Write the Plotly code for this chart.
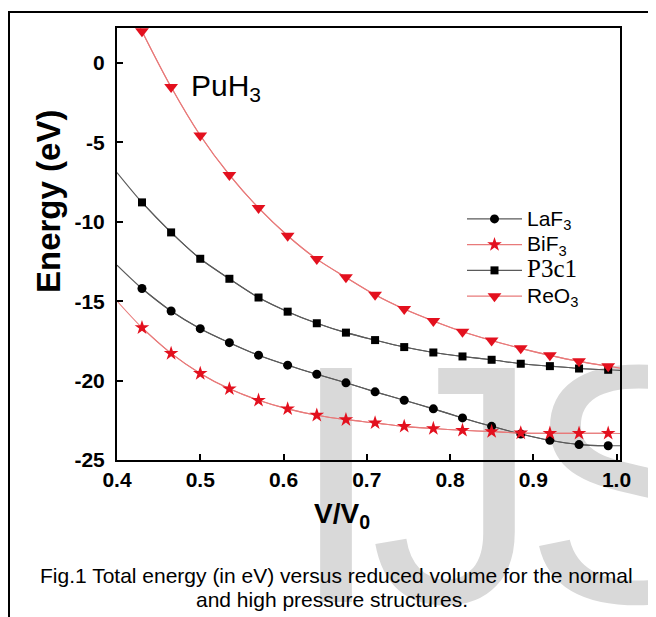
import plotly.graph_objects as go

# ---------------- data ----------------
V = [0.43, 0.465, 0.50, 0.535, 0.57, 0.605, 0.64, 0.675, 0.71,
     0.745, 0.78, 0.815, 0.85, 0.885, 0.92, 0.955, 0.99]

E_LaF3 = [-14.20, -15.62, -16.73, -17.61, -18.40, -19.03, -19.60, -20.14, -20.71,
          -21.24, -21.78, -22.35, -22.88, -23.36, -23.76, -24.03, -24.10]
E_BiF3 = [-16.67, -18.29, -19.55, -20.52, -21.24, -21.78, -22.18, -22.46, -22.66,
          -22.88, -23.02, -23.13, -23.21, -23.30, -23.32, -23.32, -23.32]
E_P3c1 = [-8.78, -10.67, -12.33, -13.59, -14.77, -15.66, -16.39, -16.98, -17.45,
          -17.89, -18.23, -18.48, -18.69, -18.94, -19.09, -19.24, -19.32]
E_ReO3 = [2.00, -1.52, -4.57, -7.05, -9.13, -10.88, -12.35, -13.50, -14.60,
          -15.50, -16.25, -16.92, -17.47, -17.97, -18.41, -18.79, -19.09]

# ends of the fitted curves (at V/V0 = 0.40 and 1.00)
fit_V = [0.40, 1.005]
fit_LaF3 = [-12.73, -24.10]
fit_BiF3 = [-14.99, -23.33]
fit_P3c1 = [-6.90, -19.36]
fit_ReO3 = [5.30, -19.22]

x_ticks = [0.4, 0.5, 0.6, 0.7, 0.8, 0.9, 1.0]
x_tick_labels = ["0.4", "0.5", "0.6", "0.7", "0.8", "0.9", "1.0"]
y_ticks = [0, -5, -10, -15, -20, -25]
y_tick_labels = ["0", "-5", "-10", "-15", "-20", "-25"]

# ---------------- layout geometry ----------------
# the page body has an 8px margin, so the figure starts at page (8, 8)
OFF = 8
W, H = 656 - OFF, 617 - OFF
PLOT_L, PLOT_R, PLOT_T, PLOT_B = 117, 620, 28, 460   # page pixels
ML, MR = PLOT_L - OFF, W - (PLOT_R - OFF)
MT, MB = PLOT_T - OFF, H - (PLOT_B - OFF)
PW, PH = W - ML - MR, H - MT - MB


def xp(px):
    """page x pixel -> paper fraction"""
    return (px - OFF - ML) / PW


def yp(py):
    """page y pixel -> paper fraction"""
    return (H - MB - (py - OFF)) / PH


SANS = "Liberation Sans, Arial, sans-serif"
RED = "#e3101e"
RED_LINE = "#e87a7a"
GREY_LINE = "#5a5a5a"


def leg(t):
    return "<span style='font-size:21px'>" + t + "</span>"


series = [
    (leg("LaF<sub>3</sub>"), E_LaF3, fit_LaF3, "circle", 9, "#000000", GREY_LINE),
    (leg("BiF<sub>3</sub>"), E_BiF3, fit_BiF3, "star", 11, RED, RED_LINE),
    ("<span style='font-family:Liberation Serif, Times New Roman, serif;font-size:25px'>P3c1</span>",
     E_P3c1, fit_P3c1, "square", 8, "#000000", GREY_LINE),
    (leg("ReO<sub>3</sub>"), E_ReO3, fit_ReO3, "triangle-down", 12, RED, RED_LINE),
]

fig = go.Figure()

# fitted curves (full extent, no legend)
for name, e, fit, sym, size, mcol, lcol in series:
    fig.add_trace(go.Scatter(
        x=[fit_V[0]] + V + [fit_V[1]],
        y=[fit[0]] + e + [fit[1]],
        mode="lines",
        line=dict(color=lcol, width=1.1, shape="spline", smoothing=0.8),
        showlegend=False, hoverinfo="skip",
    ))

# data points (with legend)
for name, e, fit, sym, size, mcol, lcol in series:
    fig.add_trace(go.Scatter(
        x=V, y=e, name=name,
        mode="lines+markers",
        line=dict(color=lcol, width=1.1, shape="spline", smoothing=0.8),
        marker=dict(symbol=sym, size=size, color=mcol, line=dict(width=0)),
    ))

axis_common = dict(
    showline=True, linewidth=2, linecolor="#000000", mirror=True,
    ticks="inside", ticklen=6, tickwidth=1.5, tickcolor="#000000",
    showgrid=False, zeroline=False,
    tickfont=dict(family=SANS, size=21, color="#000000", weight="bold"),
)

fig.update_xaxes(range=[0.4, 0.4 + 0.1 * (PLOT_R - 116.7) / 83.3],
                 tickvals=x_ticks, ticktext=x_tick_labels,
                 ticklabelstandoff=0, **axis_common)
fig.update_yaxes(range=[-25, 2.2],
                 tickvals=y_ticks, ticktext=y_tick_labels,
                 ticklabelstandoff=6, **axis_common)

annotations = [
    dict(text="Energy (eV)", x=xp(48), y=yp(202), textangle=-90,
         font=dict(family=SANS, size=33, color="#000000", weight="bold")),
    dict(text="V/V<sub>0</sub>", x=xp(342), y=yp(515),
         font=dict(family=SANS, size=28, color="#000000", weight="bold")),
    dict(text="PuH<sub>3</sub>", x=xp(226), y=yp(88),
         font=dict(family=SANS, size=30, color="#000000")),
    dict(text="Fig.1 Total energy (in eV) versus reduced volume for the normal",
         x=xp(336), y=yp(575),
         font=dict(family=SANS, size=21, color="#000000")),
    dict(text="and high pressure structures.",
         x=xp(332), y=yp(599),
         font=dict(family=SANS, size=21, color="#000000")),
]
for a in annotations:
    a.update(xref="paper", yref="paper", showarrow=False,
             xanchor="center", yanchor="middle")

# watermark letters (centre x, in page pixels), drawn below the traces
WM_FONT = 340
WM_CY = 452
wm_letters = [("I", 336), ("J", 455), ("S", 637)]
shapes = []
for ch, cx in wm_letters:
    shapes.append(dict(
        type="rect", xref="paper", yref="paper",
        x0=xp(cx - 60), x1=xp(cx + 60), y0=yp(WM_CY + 60), y1=yp(WM_CY - 60),
        line=dict(width=0), fillcolor="rgba(0,0,0,0)", layer="below",
        label=dict(text=ch, textposition="middle center",
                   font=dict(family=SANS, size=WM_FONT, color="#d9d9d9"))))

# outer frame (left and top edges)
shapes += [
    dict(type="line", xref="paper", yref="paper",
         x0=xp(OFF + 1), x1=xp(OFF + 1), y0=yp(12), y1=yp(H + OFF + 5),
         line=dict(color="#000000", width=2)),
    dict(type="line", xref="paper", yref="paper",
         x0=xp(OFF), x1=xp(W + OFF + 5), y0=yp(12), y1=yp(12),
         line=dict(color="#000000", width=2)),
]

fig.update_layout(
    width=W, height=H,
    margin=dict(l=ML, r=MR, t=MT, b=MB, pad=0),
    paper_bgcolor="#ffffff", plot_bgcolor="rgba(0,0,0,0)",
    font=dict(family=SANS, color="#000000"),
    showlegend=True,
    legend=dict(x=xp(462), y=yp(201), xanchor="left", yanchor="top",
                bgcolor="rgba(0,0,0,0)", borderwidth=0,
                itemwidth=55, tracegroupgap=0,
                font=dict(family=SANS, size=17.5, color="#000000")),
    annotations=annotations,
    shapes=shapes,
)

fig.write_html("out.html")
